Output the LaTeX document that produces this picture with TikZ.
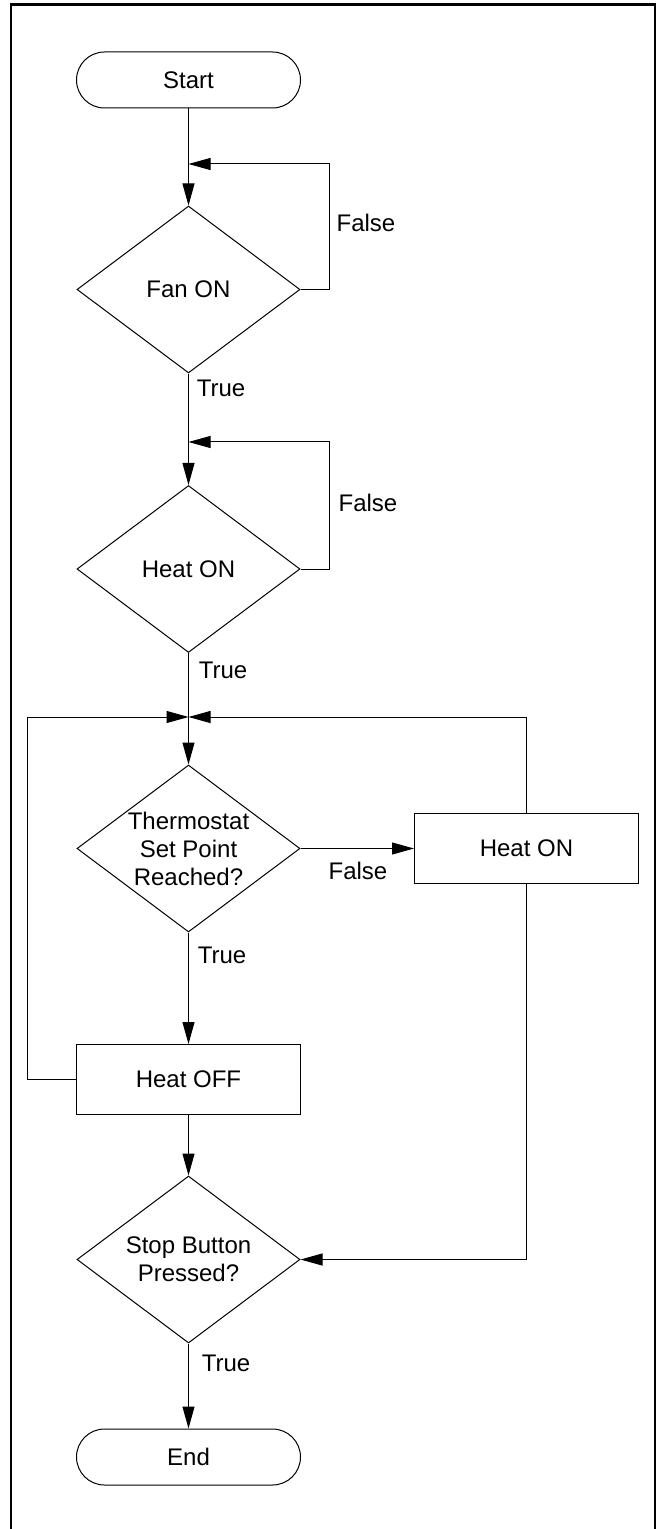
\documentclass[tikz,border=0pt]{standalone}
\usepackage{fontspec}
\setmainfont{Liberation Sans}
\usetikzlibrary{arrows.meta}
\usetikzlibrary{shapes.geometric}

\begin{document}
\begin{tikzpicture}[x=0.5pt,y=-0.5pt,
        every node/.style={font=\fontsize{12}{14}\selectfont},
        flowline/.style={line width=0.5pt,-{Triangle[length=11pt,width=6pt]}},
        terminal/.style={draw,line width=0.5pt,rectangle,rounded corners=14pt,minimum width=112pt,minimum height=28pt},
        decision/.style={draw,line width=0.5pt,diamond,aspect=1.335,minimum width=111.5pt,minimum height=83.5pt,inner sep=-4pt,align=center},
        process/.style={draw,line width=0.5pt,rectangle,minimum width=112pt,minimum height=35pt,align=center}]
        \useasboundingbox (0,0) rectangle (657,1529);
        \draw[line width=1.2pt] (11,1540) -- (11,4.5) -- (655,4.5) -- (655,1540);
        % blocks
        \node[terminal] (start) at (188.5,80) {Start};
        \node[decision] (fan) at (188.5,289.5) {Fan ON};
        \node[decision] (heat) at (188.5,569) {Heat ON};
        \node[decision] (thermo) at (188.5,848.5) {Thermostat\\Set Point\\Reached?};
        \node[process] (heaton) at (526.5,848.5) {Heat ON};
        \node[process] (heatoff) at (188.5,1079.5) {Heat OFF};
        \node[decision] (stopq) at (188.5,1259.5) {Stop Button\\Pressed?};
        \node[terminal] (finish) at (188.5,1457) {End};
        \coordinate (fanloop) at (188.5,164);
        \coordinate (heatloop) at (188.5,442);
        \coordinate (join) at (188.5,717);
        % labels
        \node (fanF) at (366,223) {False};
        \node (fanT) at (221,388) {True};
        \node (heatF) at (368,503) {False};
        \node (heatT) at (223,670) {True};
        \node (thermoF) at (358,871) {False};
        \node (thermoT) at (222,955) {True};
        \node (stopT) at (226,1363) {True};
        % connectors
        \draw[flowline] (start) -- (fan);
        \draw[flowline] (fan.east) -- ++(29,0) |- (fanloop);
        \draw[flowline] (fan) -- (heat);
        \draw[flowline] (heat.east) -- ++(29,0) |- (heatloop);
        \draw[flowline] (heat) -- (thermo);
        \draw[flowline] (thermo) -- (heaton);
        \draw[flowline] (thermo) -- (heatoff);
        \draw[flowline] (heatoff.west) -- ++(-49,0) |- (join);
        \draw[flowline] (heaton.north) |- (join);
        \draw[flowline] (heatoff) -- (stopq);
        \draw[flowline] (heaton.south) |- (stopq.east);
        \draw[flowline] (stopq) -- (finish);
        \end{tikzpicture}
\end{document}
